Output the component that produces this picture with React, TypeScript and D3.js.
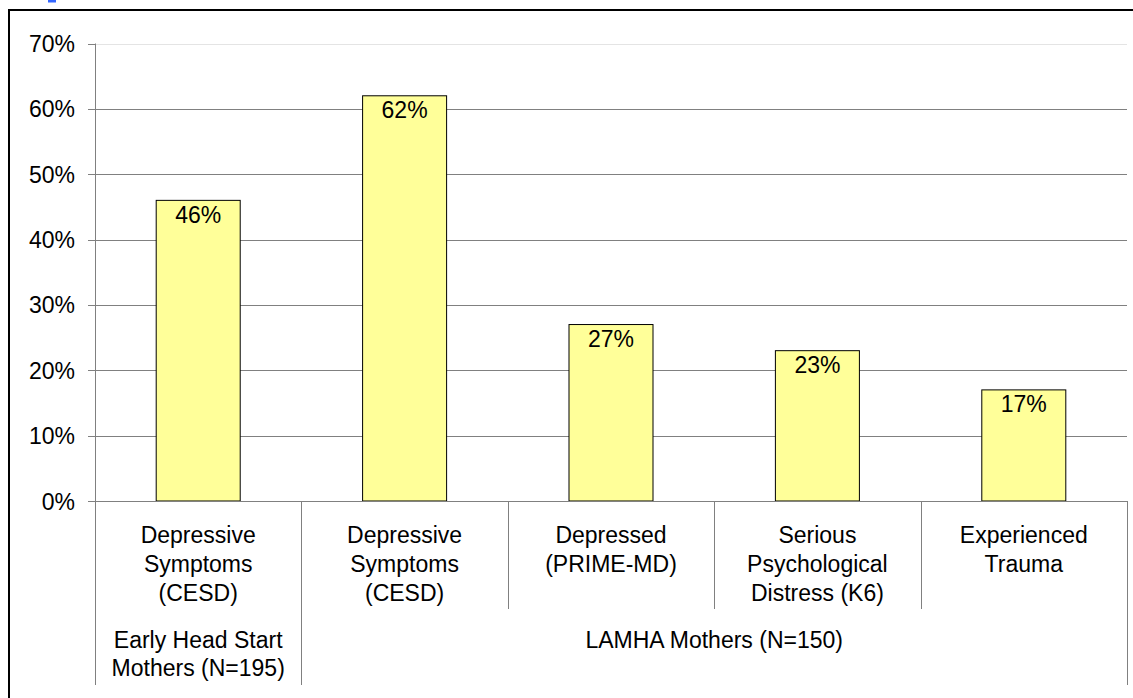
import React from 'react'
import * as d3 from 'd3'

const W = 1133
const H = 698

// chart values
const categoryLines: string[][] = [
  ['Depressive', 'Symptoms', '(CESD)'],
  ['Depressive', 'Symptoms', '(CESD)'],
  ['Depressed', '(PRIME-MD)'],
  ['Serious', 'Psychological', 'Distress (K6)'],
  ['Experienced', 'Trauma'],
]
const values = [46, 62, 27, 23, 17]
const groupLabels: string[][] = [['Early Head Start', 'Mothers (N=195)'], ['LAMHA Mothers (N=150)']]
const groupSpans = [1, 4]
const yTicks = [0, 10, 20, 30, 40, 50, 60, 70]

const left = 95
const right = 1127
const top = 43.5
const bottom = 501
const font = '"Liberation Sans", Arial, sans-serif'
const fs = 23

export default function App() {
  const x = d3
    .scaleBand<number>()
    .domain(values.map((_, i) => i))
    .range([left, right])
    .padding(0)
  const y = d3.scaleLinear().domain([0, 70]).range([bottom, top])
  const barW = x.bandwidth() * 0.407

  // group boundaries
  const groupEdges: number[] = [0]
  groupSpans.forEach((s, i) => groupEdges.push(groupEdges[i] + s))
  const edgeX = (k: number) => (k < values.length ? (x(k) as number) : right)
  const isGroupEdge = (k: number) => groupEdges.includes(k)

  return (
    <svg
      width={W}
      height={H}
      style={{ position: 'absolute', left: 0, top: 0, background: '#fff' }}
      fontFamily={font}
    >
      <rect x={48} y={0} width={8} height={2.5} fill="#3366ff" />
      {/* outer frame */}
      <path d={`M9,${H}V10H${W}`} fill="none" stroke="#000" strokeWidth={2} />

      {/* grid */}
      {yTicks
        .filter((t) => t > 0)
        .map((t) => (
          <line
            key={t}
            x1={left}
            x2={right}
            y1={Math.round(y(t)) + 0.5}
            y2={Math.round(y(t)) + 0.5}
            stroke={t === 70 ? '#e4e4e4' : '#808080'}
            strokeWidth={1}
          />
        ))}

      {/* y axis */}
      <line x1={left + 0.5} x2={left + 0.5} y1={top} y2={685} stroke="#808080" />
      {yTicks.map((t) => (
        <g key={t}>
          <line x1={88} x2={left} y1={Math.round(y(t)) + 0.5} y2={Math.round(y(t)) + 0.5} stroke="#808080" />
          <text x={75} y={y(t) + 8.5} textAnchor="end" fontSize={fs} fill="#000">
            {t}%
          </text>
        </g>
      ))}

      {/* bars */}
      {values.map((v, i) => {
        const cx = (x(i) as number) + x.bandwidth() / 2
        return (
          <g key={i}>
            <rect
              x={cx - barW / 2}
              y={y(v)}
              width={barW}
              height={bottom - y(v)}
              fill="#ffff99"
              stroke="#000"
              strokeWidth={1}
            />
            <text x={cx} y={y(v) + 22.5} textAnchor="middle" fontSize={fs} fill="#000">
              {v}%
            </text>
          </g>
        )
      })}

      {/* x axis baseline */}
      <line x1={left} x2={right} y1={bottom + 0.5} y2={bottom + 0.5} stroke="#808080" />

      {/* category dividers */}
      {d3.range(1, values.length + 1).map((k) => (
        <line
          key={k}
          x1={Math.round(edgeX(k)) + 0.5}
          x2={Math.round(edgeX(k)) + 0.5}
          y1={bottom}
          y2={isGroupEdge(k) ? 685 : 609}
          stroke="#808080"
        />
      ))}

      {/* category labels */}
      {categoryLines.map((lines, i) => {
        const cx = (x(i) as number) + x.bandwidth() / 2
        return (
          <text key={i} textAnchor="middle" fontSize={fs} fill="#000">
            {lines.map((l, j) => (
              <tspan key={j} x={cx} y={543 + j * 29.2}>
                {l}
              </tspan>
            ))}
          </text>
        )
      })}

      {/* group labels */}
      {groupLabels.map((lines, g) => {
        const cx = (edgeX(groupEdges[g]) + edgeX(groupEdges[g + 1])) / 2
        return (
          <text key={g} textAnchor="middle" fontSize={fs} fill="#000">
            {lines.map((l, j) => (
              <tspan key={j} x={cx} y={648 + j * 28}>
                {l}
              </tspan>
            ))}
          </text>
        )
      })}
    </svg>
  )
}
